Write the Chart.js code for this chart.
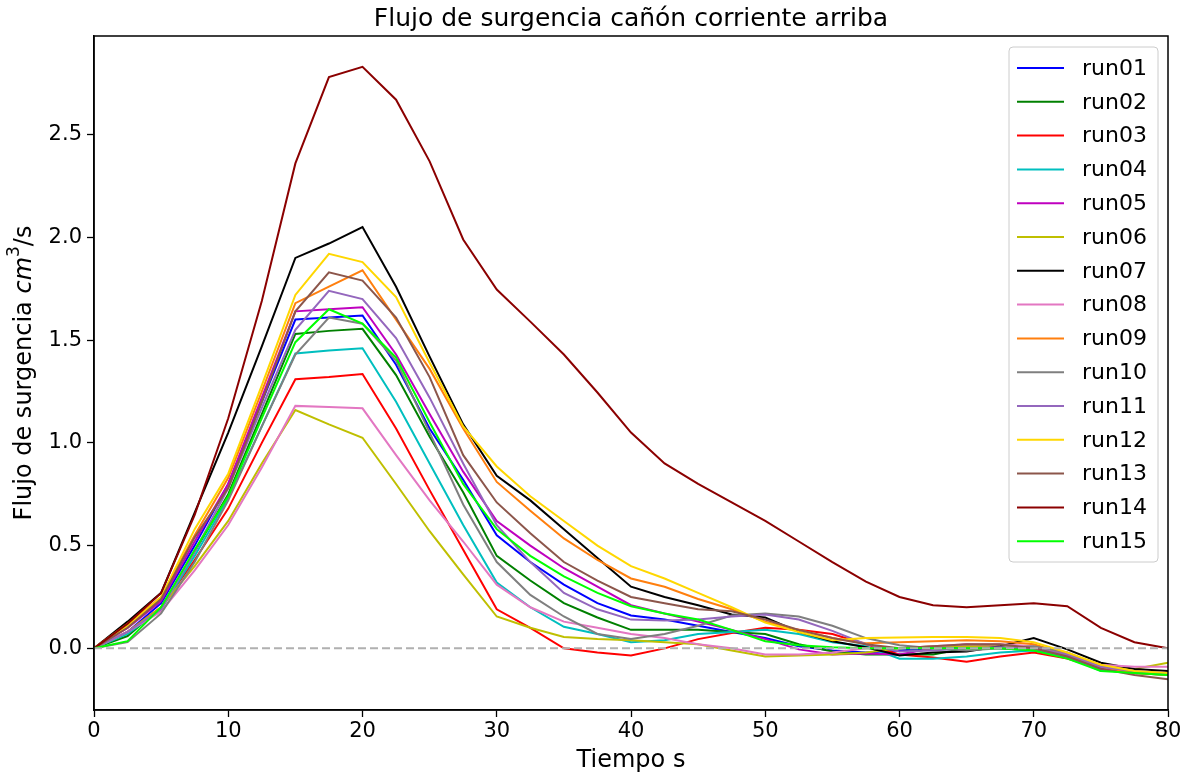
<!DOCTYPE html>
<html>
<head>
<meta charset="utf-8">
<script src="https://cdn.jsdelivr.net/npm/chart.js@4/dist/chart.umd.min.js"></script>
<style>
  body { margin: 0; background: #fff; }
  #wrap { width: 1190px; height: 780px; }
</style>
</head>
<body>
<div id="wrap"><canvas id="myChart" width="1190" height="780"></canvas></div>
<script>
// tiempo (s)
const tiempo = [0, 2.5, 5, 7.5, 10, 12.5, 15, 17.5, 20, 22.5, 25, 27.5, 30, 32.5, 35, 37.5, 40,
  42.5, 45, 47.5, 50, 52.5, 55, 57.5, 60, 62.5, 65, 67.5, 70, 72.5, 75, 77.5, 80];

const run01 = [0, 0.08, 0.22, 0.5, 0.8, 1.2, 1.60, 1.61, 1.62, 1.38, 1.07, 0.82, 0.55, 0.42, 0.31, 0.22, 0.16,
  0.14, 0.11, 0.08, 0.05, 0.01, -0.01, -0.02, -0.01, 0.0, 0.01, 0.0, 0.0, -0.04, -0.10, -0.11, -0.12];
const run02 = [0, 0.06, 0.2, 0.47, 0.75, 1.14, 1.53, 1.545, 1.555, 1.33, 1.03, 0.76, 0.45, 0.33, 0.22, 0.15, 0.09,
  0.09, 0.09, 0.08, 0.07, 0.02, -0.015, -0.03, -0.03, -0.03, 0.0, 0.0, -0.01, -0.04, -0.10, -0.12, -0.13];
const run03 = [0, 0.08, 0.2, 0.43, 0.68, 1.0, 1.31, 1.32, 1.335, 1.07, 0.77, 0.48, 0.19, 0.10, 0.0, -0.02, -0.035,
  0.0, 0.045, 0.075, 0.10, 0.09, 0.07, 0.02, -0.03, -0.045, -0.065, -0.04, -0.02, -0.05, -0.10, -0.11, -0.11];
const run04 = [0, 0.07, 0.19, 0.45, 0.73, 1.08, 1.435, 1.45, 1.46, 1.20, 0.90, 0.60, 0.32, 0.20, 0.105, 0.07, 0.03,
  0.04, 0.07, 0.08, 0.09, 0.07, 0.03, 0.01, -0.05, -0.05, -0.04, -0.02, -0.01, -0.04, -0.11, -0.11, -0.11];
const run05 = [0, 0.1, 0.23, 0.52, 0.8, 1.22, 1.64, 1.65, 1.66, 1.43, 1.14, 0.86, 0.62, 0.50, 0.39, 0.30, 0.21,
  0.17, 0.13, 0.09, 0.045, -0.005, -0.03, -0.025, -0.03, 0.0, 0.02, 0.01, 0.0, -0.04, -0.10, -0.11, -0.11];
const run06 = [0, 0.08, 0.2, 0.4, 0.62, 0.9, 1.16, 1.09, 1.025, 0.80, 0.57, 0.36, 0.155, 0.10, 0.055, 0.045, 0.04,
  0.03, 0.02, -0.01, -0.04, -0.035, -0.03, -0.02, 0.0, 0.01, 0.01, 0.01, 0.005, -0.03, -0.09, -0.10, -0.07];
const run07 = [0, 0.13, 0.27, 0.66, 1.05, 1.47, 1.90, 1.97, 2.05, 1.76, 1.42, 1.09, 0.84, 0.72, 0.58, 0.44, 0.30,
  0.25, 0.21, 0.165, 0.15, 0.08, 0.035, 0.005, -0.035, -0.02, -0.015, 0.01, 0.05, -0.005, -0.07, -0.10, -0.11];
const run08 = [0, 0.08, 0.18, 0.38, 0.6, 0.88, 1.18, 1.175, 1.168, 0.94, 0.72, 0.52, 0.31, 0.20, 0.13, 0.10, 0.07,
  0.05, 0.02, 0.0, -0.03, -0.03, -0.02, 0.0, 0.0, 0.01, 0.02, 0.02, 0.01, -0.03, -0.08, -0.09, -0.09];
const run09 = [0, 0.12, 0.25, 0.55, 0.83, 1.25, 1.68, 1.76, 1.84, 1.60, 1.36, 1.07, 0.81, 0.67, 0.535, 0.43, 0.34,
  0.30, 0.24, 0.19, 0.13, 0.09, 0.05, 0.025, 0.03, 0.035, 0.04, 0.035, 0.02, -0.03, -0.09, -0.12, -0.13];
const run10 = [0, 0.03, 0.17, 0.42, 0.72, 1.08, 1.43, 1.61, 1.58, 1.40, 1.05, 0.70, 0.42, 0.26, 0.155, 0.07, 0.045,
  0.07, 0.11, 0.16, 0.17, 0.155, 0.11, 0.05, 0.015, 0.0, -0.01, 0.0, 0.01, -0.02, -0.09, -0.11, -0.12];
const run11 = [0, 0.08, 0.19, 0.47, 0.78, 1.17, 1.55, 1.74, 1.70, 1.51, 1.22, 0.90, 0.60, 0.42, 0.27, 0.19, 0.14,
  0.135, 0.14, 0.155, 0.165, 0.14, 0.085, 0.02, -0.015, -0.01, 0.0, 0.005, 0.0, -0.03, -0.09, -0.11, -0.12];
const run12 = [0, 0.11, 0.25, 0.58, 0.85, 1.28, 1.72, 1.92, 1.88, 1.71, 1.39, 1.08, 0.885, 0.74, 0.62, 0.50, 0.40,
  0.34, 0.27, 0.20, 0.125, 0.08, 0.04, 0.05, 0.053, 0.055, 0.055, 0.05, 0.03, -0.02, -0.08, -0.11, -0.12];
const run13 = [0, 0.1, 0.24, 0.54, 0.78, 1.2, 1.64, 1.83, 1.79, 1.61, 1.32, 0.94, 0.71, 0.56, 0.42, 0.33, 0.25,
  0.22, 0.19, 0.18, 0.14, 0.09, 0.05, 0.02, 0.0, 0.01, 0.02, 0.02, 0.0, -0.04, -0.10, -0.13, -0.15];
const run14 = [0, 0.12, 0.27, 0.65, 1.12, 1.69, 2.36, 2.78, 2.83, 2.67, 2.37, 1.99, 1.746, 1.59, 1.43, 1.245, 1.05,
  0.90, 0.80, 0.71, 0.62, 0.52, 0.42, 0.325, 0.25, 0.21, 0.20, 0.21, 0.22, 0.205, 0.10, 0.03, 0.0];
const run15 = [0, 0.035, 0.2, 0.48, 0.74, 1.12, 1.49, 1.65, 1.58, 1.415, 1.10, 0.80, 0.58, 0.45, 0.35, 0.27, 0.205,
  0.17, 0.14, 0.09, 0.035, 0.015, 0.005, 0.0, 0.0, 0.0, 0.0, 0.0, -0.01, -0.05, -0.11, -0.12, -0.13];

const nombres = ['run01', 'run02', 'run03', 'run04', 'run05', 'run06', 'run07', 'run08',
  'run09', 'run10', 'run11', 'run12', 'run13', 'run14', 'run15'];
const colores = ['#0000ff', '#008000', '#ff0000', '#00bfbf', '#bf00bf', '#bfbf00', '#000000', '#e377c2',
  '#ff7f0e', '#7f7f7f', '#9467bd', '#ffd700', '#8c564b', '#8b0000', '#00ff00'];
const series = [run01, run02, run03, run04, run05, run06, run07, run08, run09, run10, run11, run12, run13, run14, run15];

// linea de referencia en cero
const cero = [0, 0];
const ceroX = [0, 80];

const xTicks = [0, 10, 20, 30, 40, 50, 60, 70, 80];
const yTicks = [0, 0.5, 1.0, 1.5, 2.0, 2.5];

const FONT = 'DejaVu Sans';

const datasets = series.map((s, i) => ({
  label: nombres[i],
  data: tiempo.map((t, j) => ({ x: t, y: s[j] })),
  borderColor: colores[i],
  backgroundColor: colores[i],
  borderWidth: 2,
  pointRadius: 0,
  tension: 0,
  order: 20 - i
}));
datasets.push({
  label: 'cero',
  data: ceroX.map((t, j) => ({ x: t, y: cero[j] })),
  borderColor: '#b0b0b0',
  borderWidth: 2,
  borderDash: [8, 4],
  pointRadius: 0,
  order: 0
});

// marco completo del area
const marco = {
  id: 'marco',
  afterDatasetsDraw(chart) {
    const { ctx, chartArea: a } = chart;
    ctx.save();
    ctx.strokeStyle = '#000';
    ctx.lineWidth = 1.5;
    ctx.strokeRect(a.left, a.top, a.right - a.left, a.bottom - a.top);
    ctx.restore();
  }
};

// titulo eje y con cm^3
const tituloY = {
  id: 'tituloY',
  afterDraw(chart) {
    const { ctx, chartArea: a } = chart;
    const partes = [
      { t: 'Flujo de surgencia ', f: '24px ' + FONT, dy: 0 },
      { t: 'cm', f: 'italic 24px ' + FONT, dy: 0 },
      { t: '3', f: '17px ' + FONT, dy: -10 },
      { t: '/s', f: '24px ' + FONT, dy: 0 }
    ];
    ctx.save();
    let total = 0;
    partes.forEach(p => { ctx.font = p.f; p.w = ctx.measureText(p.t).width; total += p.w; });
    ctx.translate(25, (a.top + a.bottom) / 2);
    ctx.rotate(-Math.PI / 2);
    ctx.fillStyle = '#000';
    ctx.textBaseline = 'middle';
    let x = -total / 2;
    partes.forEach(p => {
      ctx.font = p.f;
      ctx.fillText(p.t, x, p.dy);
      x += p.w;
    });
    ctx.restore();
  }
};

// leyenda dentro del grafico
const leyenda = {
  id: 'leyenda',
  afterDraw(chart) {
    const { ctx, chartArea: a } = chart;
    const x0 = a.right - 159, y0 = a.top + 11, w = 149, h = 515;
    ctx.save();
    ctx.fillStyle = 'rgba(255,255,255,0.8)';
    ctx.strokeStyle = '#cccccc';
    ctx.lineWidth = 1;
    ctx.beginPath();
    ctx.roundRect(x0, y0, w, h, 4);
    ctx.fill();
    ctx.stroke();
    ctx.font = '22px ' + FONT;
    ctx.textBaseline = 'middle';
    nombres.forEach((n, i) => {
      const y = y0 + 21 + i * 33.8;
      ctx.strokeStyle = colores[i];
      ctx.lineWidth = 2;
      ctx.beginPath();
      ctx.moveTo(x0 + 8, y);
      ctx.lineTo(x0 + 55, y);
      ctx.stroke();
      ctx.fillStyle = '#000';
      ctx.fillText(n, x0 + 73, y + 1);
    });
    ctx.restore();
  }
};

const config = {
  type: 'line',
  data: { datasets: datasets },
  options: {
    responsive: false,
    animation: false,
    layout: { padding: { top: 0, right: 22, left: 0, bottom: 0 } },
    plugins: {
      legend: { display: false },
      tooltip: { enabled: false },
      title: {
        display: true,
        fullSize: false,
        text: 'Flujo de surgencia cañón corriente arriba',
        color: '#000',
        font: { family: FONT, size: 25, weight: 'normal' },
        padding: { top: 4.5, bottom: 1.5 }
      }
    },
    scales: {
      x: {
        type: 'linear',
        min: 0,
        max: 80,
        afterBuildTicks: s => { s.ticks = xTicks.map(v => ({ value: v })); },
        afterFit: s => { s.height = 70; },
        grid: { drawOnChartArea: false, drawTicks: true, tickLength: 7, tickColor: '#000', tickWidth: 1.3 },
        border: { display: true, color: '#000', width: 1.5 },
        ticks: { color: '#000', font: { family: FONT, size: 21 }, padding: 2, maxRotation: 0 },
        title: {
          display: true,
          text: 'Tiempo s',
          color: '#000',
          font: { family: FONT, size: 24 },
          padding: { top: 0, bottom: 4.6 }
        }
      },
      y: {
        type: 'linear',
        min: -0.3,
        max: 2.98,
        afterBuildTicks: s => { s.ticks = yTicks.map(v => ({ value: v })); },
        afterFit: s => { s.width = 94; },
        grid: { drawOnChartArea: false, drawTicks: true, tickLength: 7, tickColor: '#000', tickWidth: 1.3 },
        border: { display: true, color: '#000', width: 1.5 },
        ticks: { color: '#000', font: { family: FONT, size: 21 }, padding: 5, callback: v => v.toFixed(1) }
      }
    }
  },
  plugins: [marco, tituloY, leyenda]
};

const myChart = new Chart(document.getElementById('myChart'), config);
</script>
</body>
</html>
